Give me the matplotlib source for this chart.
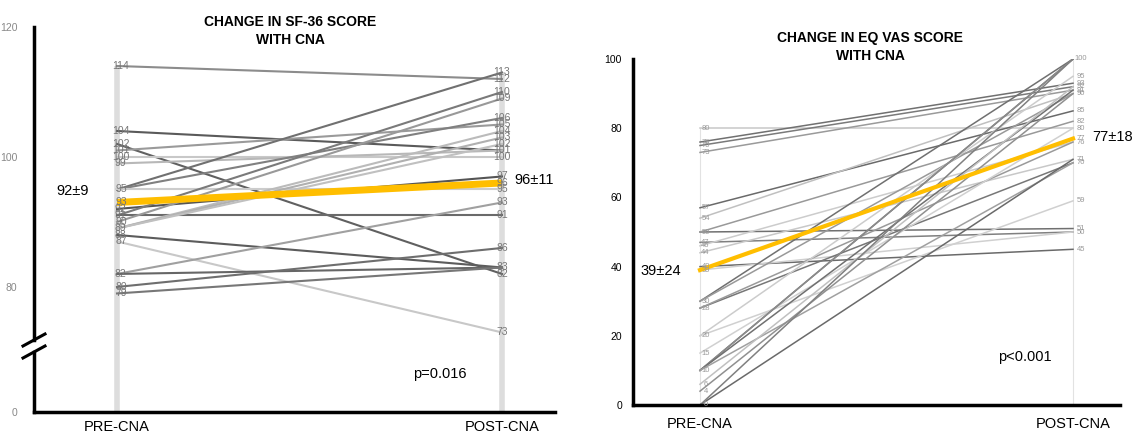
import numpy as np
import matplotlib
matplotlib.use("Agg")
import matplotlib.pyplot as plt

# SF-36 (left panel)
sf_pre = [114, 104, 102, 101, 100, 99, 95, 95, 95, 92, 91, 91, 90, 89, 89, 89, 88, 87, 82, 82, 80, 79]
sf_post = [112, 101, 82, 105, 100, 101, 113, 106, 95, 97, 110, 91, 109, 104, 103, 102, 83, 73, 93, 83, 86, 83]
sf_mean = [93, 96]
sf_mean_txt = ["92\u00b19", "96\u00b111"]
sf_p = "p=0.016"
sf_ticks = [0, 80, 100, 120]

# EQ VAS (right panel)
eq_pre = [80, 76, 75, 73, 57, 54, 50, 50, 47, 46, 44, 40, 39, 30, 30, 28, 28, 20, 20, 15, 10, 10, 10, 10, 6, 4, 0, 0]
eq_post = [80, 93, 92, 91, 85, 90, 51, 82, 50, 76, 71, 45, 50, 100, 90, 70, 76, 95, 59, 80, 100, 100, 91, 70, 92, 90, 71, 100]
eq_mean = [39, 77]
eq_mean_txt = ["39\u00b124", "77\u00b118"]
eq_p = "p<0.001"
eq_ticks = [0, 20, 40, 60, 80, 100]

groups = ["PRE-CNA", "POST-CNA"]

# line shades
sf_cols = ['#8c8c8c', '#5a5a5a', '#606060', '#9a9a9a', '#c8c8c8', '#b8b8b8', '#707070', '#808080',
           '#cccccc', '#555555', '#7a7a7a', '#6a6a6a', '#999999', '#bbbbbb', '#b0b0b0', '#c0c0c0',
           '#5c5c5c', '#c8c8c8', '#a0a0a0', '#666666', '#6e6e6e', '#777777']
eq_cols = ['#c8c8c8', '#707070', '#7a7a7a', '#9a9a9a', '#6a6a6a', '#c0c0c0', '#707070', '#999999',
           '#808080', '#cccccc', '#c8c8c8', '#6a6a6a', '#d0d0d0', '#707070', '#999999', '#777777',
           '#9a9a9a', '#cccccc', '#d0d0d0', '#d0d0d0', '#666666', '#8c8c8c', '#707070', '#a0a0a0',
           '#c0c0c0', '#909090', '#6a6a6a', '#808080']

yellow = '#FFBE00'
fnt = ['Liberation Sans Narrow', 'Liberation Sans', 'DejaVu Sans']
plt.rcParams['font.family'] = fnt

fig = plt.figure(figsize=(11.36, 4.37), dpi=100)

# ---------- left panel ----------
def fwd(v):
    v = np.asarray(v, dtype=float)
    return np.where(v >= 70, v, 70 - (70 - v) * 0.132)

def inv(v):
    v = np.asarray(v, dtype=float)
    return np.where(v >= 70, v, 70 - (70 - v) / 0.132)

ax1 = fig.add_axes([34 / 1136, 1 - 412 / 437, 521 / 1136, 385 / 437])
ax1.set_yscale('function', functions=(fwd, inv))
ax1.set_ylim(0, 120)
ax1.set_xlim(-0.2156, 1.1377)

ax1.plot([0, 0], [0, max(sf_pre)], color='#dddddd', lw=4, zorder=1, solid_capstyle='butt')
ax1.plot([1, 1], [0, max(sf_post)], color='#dddddd', lw=4, zorder=1, solid_capstyle='butt')
for a, b, c in zip(sf_pre, sf_post, sf_cols):
    ax1.plot([0, 1], [a, b], color=c, lw=1.5, zorder=2)
ax1.plot([0, 1], sf_mean, color=yellow, lw=5, zorder=3, solid_capstyle='butt')

for v in sorted(set(sf_pre + [sf_mean[0]])):
    ax1.text(0.01, v, str(v), ha='center', va='center', fontsize=7.5, color='#777777', zorder=4)
for v in sorted(set(sf_post + [sf_mean[1]])):
    ax1.text(1.0, v, str(v), ha='center', va='center', fontsize=7.5, color='#777777', zorder=4)

ax1.text(-0.114, 94.8, sf_mean_txt[0], ha='center', va='center', fontsize=10.5)
ax1.text(1.083, 96.5, sf_mean_txt[1], ha='center', va='center', fontsize=10.5)
ax1.text(0.779, 0.099, sf_p, transform=ax1.transAxes, ha='center', va='center', fontsize=10.5)

ax1.set_yticks(sf_ticks)
ax1.set_yticklabels([str(t) for t in sf_ticks], fontsize=7.5, color='#888888')
ax1.set_xticks([0, 1])
ax1.set_xticklabels(groups, fontsize=10.5)
ax1.tick_params(length=0, pad=6)
ax1.tick_params(axis='y', pad=12)
for s in ['top', 'right', 'left']:
    ax1.spines[s].set_visible(False)
ax1.spines['bottom'].set_linewidth(2.5)

# left spine with break
b_lo, b_hi = (412 - 352) / 385, (412 - 340) / 385
ax1.plot([0, 0], [0, b_lo], transform=ax1.transAxes, color='black', lw=2.5, clip_on=False)
ax1.plot([0, 0], [b_hi, 1], transform=ax1.transAxes, color='black', lw=2.5, clip_on=False)
dx, dy = 11 / 521, 6 / 385
for yc in (b_lo, b_hi):
    ax1.plot([-dx, dx], [yc - dy, yc + dy], transform=ax1.transAxes, color='black', lw=2.2, clip_on=False)

fig.text(290 / 1136, 1 - 31 / 437, "CHANGE IN SF-36 SCORE\nWITH CNA", ha='center', va='center',
         fontsize=10, fontweight='bold', linespacing=1.4)

# ---------- right panel ----------
ax2 = fig.add_axes([633 / 1136, 1 - 405 / 437, 487 / 1136, 346 / 437])
ax2.set_ylim(0, 100)
ax2.set_xlim(-0.1796, 1.126)

ax2.plot([0, 0], [0, max(eq_pre)], color='#e2e2e2', lw=0.8, zorder=1)
ax2.plot([1, 1], [0, max(eq_post)], color='#e2e2e2', lw=0.8, zorder=1)
for a, b, c in zip(eq_pre, eq_post, eq_cols):
    ax2.plot([0, 1], [a, b], color=c, lw=1.1, zorder=2)
ax2.plot([0, 1], eq_mean, color=yellow, lw=3, zorder=3)

for v in sorted(set(eq_pre + [eq_mean[0]])):
    ax2.text(0.015, v, str(v), ha='center', va='center', fontsize=5.5, color='#999999', zorder=4)
for v in sorted(set(eq_post + [eq_mean[1]])):
    ax2.text(1.022, v, str(v), ha='center', va='center', fontsize=5.5, color='#999999', zorder=4)

ax2.text(-0.105, 38.6, eq_mean_txt[0], ha='center', va='center', fontsize=10.5)
ax2.text(1.105, 77.5, eq_mean_txt[1], ha='center', va='center', fontsize=10.5)
ax2.text(0.87, 14, eq_p, ha='center', va='center', fontsize=10.5)

ax2.set_yticks(eq_ticks)
ax2.set_yticklabels([str(t) for t in eq_ticks], fontsize=7.5)
ax2.set_xticks([0, 1])
ax2.set_xticklabels(groups, fontsize=10.5)
ax2.tick_params(length=0, pad=9)
ax2.tick_params(axis='y', pad=8)
for s in ['top', 'right']:
    ax2.spines[s].set_visible(False)
ax2.spines['bottom'].set_linewidth(2.5)
ax2.spines['left'].set_linewidth(2.5)

fig.text(870 / 1136, 1 - 47 / 437, "CHANGE IN EQ VAS SCORE\nWITH CNA", ha='center', va='center',
         fontsize=10, fontweight='bold', linespacing=1.4)

fig.savefig("out.png", dpi=100)
